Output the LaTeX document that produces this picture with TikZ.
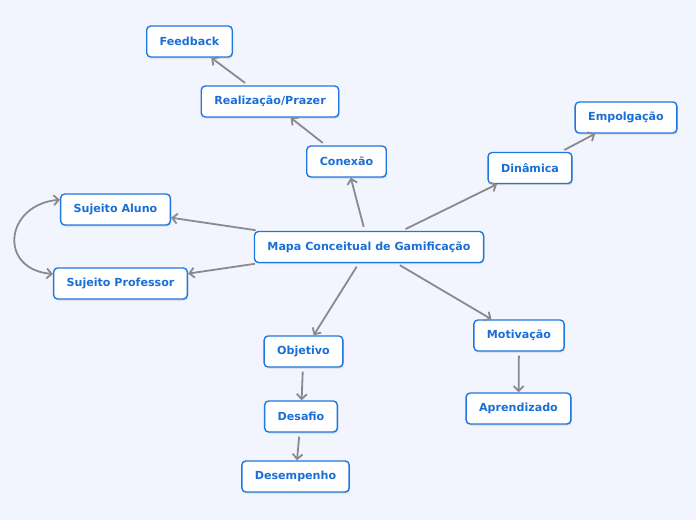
\documentclass[tikz,border=0pt]{standalone}
\usepackage{fontspec}
\setmainfont{DejaVu Sans}
\usetikzlibrary{arrows.meta,shadows}
\definecolor{mapbg}{HTML}{F2F5FD}
\definecolor{mapblue}{HTML}{1F78E0}
\definecolor{maptext}{HTML}{1A6FD6}
\definecolor{mapgray}{HTML}{8A8A8E}

\begin{document}
\begin{tikzpicture}[
    x=1pt, y=-1pt,
    font=\bfseries\fontsize{11.1}{13}\selectfont,
    concept/.style={draw=mapblue, line width=1.4pt, rounded corners=4pt,
      fill=white, text=maptext, inner xsep=13pt, minimum height=31pt,
      drop shadow={opacity=0.25, shadow xshift=1pt, shadow yshift=-1.5pt}},
    link/.style={-{Straight Barb[length=5pt, width=10pt]}, line width=1.8pt,
      draw=mapgray, shorten <=4pt}
  ]
    \fill[mapbg] (0,0) rectangle (696,520);
    \useasboundingbox (0,0) rectangle (696,520);

    \node[concept] (mapa) at (369,247) {Mapa Conceitual de Gamificação};
    \node[concept] (conexao) at (346.5,161.5) {Conexão};
    \node[concept] (realizacao) at (270,101.5) {Realização/Prazer};
    \node[concept] (feedback) at (189.5,41.5) {Feedback};
    \node[concept] (dinamica) at (530,168) {Dinâmica};
    \node[concept] (empolgacao) at (626,117.5) {Empolgação};
    \node[concept] (aluno) at (115.5,209.5) {Sujeito Aluno};
    \node[concept] (professor) at (120.5,283.5) {Sujeito Professor};
    \node[concept] (objetivo) at (303.5,351.5) {Objetivo};
    \node[concept] (desafio) at (301,416.5) {Desafio};
    \node[concept] (desempenho) at (295.5,476.5) {Desempenho};
    \node[concept] (motivacao) at (519,335.5) {Motivação};
    \node[concept] (aprendizado) at (518.5,408.5) {Aprendizado};

    \draw[link] (mapa) -- (conexao);
    \draw[link] (conexao) -- (realizacao);
    \draw[link] (realizacao) -- (feedback);
    \draw[link] (mapa) -- (dinamica);
    \draw[link] (dinamica) -- (empolgacao);
    \draw[link] (mapa) -- (aluno);
    \draw[link] (mapa) -- (professor);
    \draw[link] (mapa) -- (objetivo);
    \draw[link] (objetivo) -- (desafio);
    \draw[link] (desafio) -- (desempenho);
    \draw[link] (mapa) -- (motivacao);
    \draw[link] (motivacao) -- (aprendizado);
    \draw[link, shorten <=0pt, {Straight Barb[length=5pt, width=10pt]}-{Straight Barb[length=5pt, width=10pt]}]
      (aluno.170) to[out=185, in=175, looseness=1.9] (professor.172);
  \end{tikzpicture}
\end{document}
